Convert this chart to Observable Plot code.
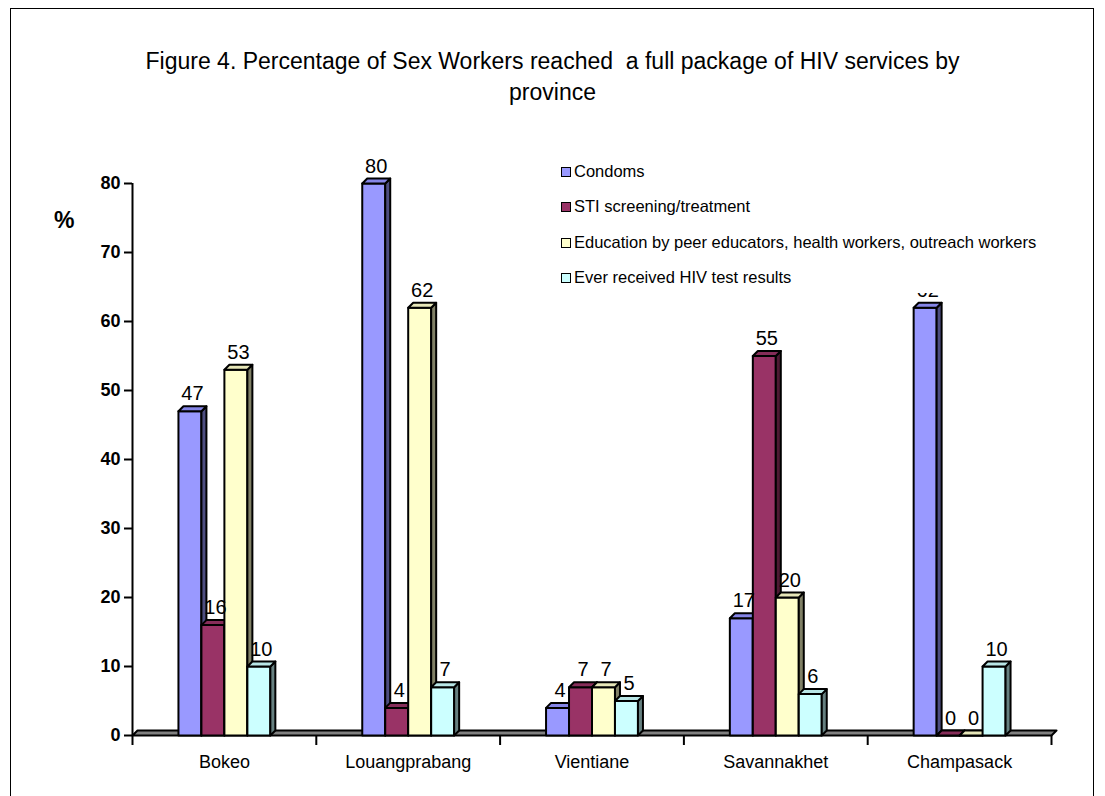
<!DOCTYPE html>
<html>
<head>
<meta charset="utf-8">
<script src="https://cdn.jsdelivr.net/npm/d3@7"></script>
<script src="https://cdn.jsdelivr.net/npm/@observablehq/plot@0.6"></script>
<style>
  html, body { margin: 0; padding: 0; background: #fff; width: 1105px; height: 796px; overflow: hidden; }
  body { position: relative; font-family: Arial, "Liberation Sans", sans-serif; color: #000; }
  #frame { position: absolute; left: 10px; top: 8px; width: 1084px; height: 820px; border: 1.5px solid #000; box-sizing: border-box; }
  #chart { position: absolute; left: 0; top: 0; }
  #title { position: absolute; left: 0; width: 1105px; top: 46px; text-align: center; font-size: 23px; line-height: 31px; }
  #pct { position: absolute; left: 54px; top: 207px; font-size: 23px; font-weight: bold; }
  #legend { position: absolute; left: 553px; top: 156px; width: 495px; height: 137px; background: #fff; }
  .item { position: absolute; left: 8px; height: 18px; font-size: 16.5px; line-height: 18px; white-space: nowrap; }
  .sw { display: inline-block; width: 8px; height: 8px; border: 1.5px solid #000; margin-right: 3px; vertical-align: 0px; }
</style>
</head>
<body>
<div id="chart"></div>
<div id="frame"></div>
<div id="title">Figure 4. Percentage of Sex Workers reached&nbsp; a full package of HIV services by<br>province</div>
<div id="pct">%</div>
<div id="legend"></div>
<script>
const provinces = ["Bokeo", "Louangprabang", "Vientiane", "Savannakhet", "Champasack"];
const seriesNames = [
  "Condoms",
  "STI screening/treatment",
  "Education by peer educators, health workers, outreach workers",
  "Ever received HIV test results"
];
const condoms   = [47, 80, 4, 17, 62];
const sti       = [16, 4, 7, 55, 0];
const education = [53, 62, 7, 20, 0];
const hivTest   = [10, 7, 5, 6, 10];
const yTicks = [0, 10, 20, 30, 40, 50, 60, 70, 80];

const frontColors = ["#9999FF", "#993366", "#FFFFCC", "#CCFFFF"];
const sideColors  = ["#4D4D80", "#4D1A33", "#808066", "#668080"];
const topColors   = ["#8585E6", "#862D59", "#E6E6B8", "#B8E6E6"];

const seriesValues = [condoms, sti, education, hivTest];

// geometry in scale units
const W = 1105, H = 796;
const mL = 132, mR = 54, mT = 183, mB = 61;
const pxPerX = (W - mL - mR) / provinces.length;   // px per category
const pxPerY = (H - mT - mB) / 80;                  // px per %
const depthX = 5 / pxPerX, depthY = 5 / pxPerY;
const groupWidth = 0.5, barW = groupWidth / seriesNames.length;

const rows = [];
provinces.forEach((p, i) => {
  seriesValues.forEach((vals, j) => {
    const x1 = i - groupWidth / 2 + j * barW;
    rows.push({province: p, series: seriesNames[j], j, i, value: vals[i], x1, x2: x1 + barW});
  });
});

// polygons (front, side, top) in drawing order
const polys = [];
let pid = 0;
function poly(pts, fill) {
  const id = pid++;
  pts.concat([pts[0]]).forEach(([x, y]) => polys.push({id, x, y, fill}));
}
// floor
poly([[-0.5, 0], [provinces.length - 0.5, 0], [provinces.length - 0.5 + depthX, depthY], [-0.5 + depthX, depthY]], "#808080");
rows.forEach(r => {
  const v = r.value;
  poly([[r.x1, 0], [r.x2, 0], [r.x2, v], [r.x1, v]], frontColors[r.j]);
  poly([[r.x2, 0], [r.x2 + depthX, depthY], [r.x2 + depthX, v + depthY], [r.x2, v]], sideColors[r.j]);
  poly([[r.x1, v], [r.x2, v], [r.x2 + depthX, v + depthY], [r.x1 + depthX, v + depthY]], topColors[r.j]);
});

const boundaries = provinces.map((d, i) => i - 0.5).concat([provinces.length - 0.5]);

const chart = Plot.plot({
  width: W, height: H,
  marginLeft: mL, marginRight: mR, marginTop: mT, marginBottom: mB,
  style: {fontFamily: 'Arial, "Liberation Sans", sans-serif', fontSize: "18px", color: "#000", background: "transparent", overflow: "visible"},
  x: {domain: [-0.5, provinces.length - 0.5], axis: null},
  y: {domain: [0, 80], axis: null},
  color: {type: "identity"},
  marks: [
    // y axis line and ticks
    Plot.ruleX([-0.5], {y1: 0, y2: 80, stroke: "#000", strokeWidth: 2}),
    Plot.ruleY(yTicks, {x1: -0.5 - 8 / pxPerX, x2: -0.5, stroke: "#000", strokeWidth: 2}),
    Plot.text(yTicks, {x: -0.5, y: d => d, text: d => String(d), dx: -12, textAnchor: "end", fontWeight: "bold", fontSize: 18}),
    // category boundary ticks below floor
    Plot.ruleX(boundaries, {y1: 0, y2: -10 / pxPerY, stroke: "#000", strokeWidth: 2}),
    // bars
    Plot.line(polys, {x: "x", y: "y", z: "id", fill: "fill", stroke: "#000", strokeWidth: 2, strokeLinejoin: "round", curve: "linear"}),
    // value labels
    Plot.text(rows, {x: r => (r.x1 + r.x2) / 2 + depthX / 2, y: r => r.value + depthY, text: r => String(r.value), dy: -6, lineAnchor: "bottom", fontSize: 20}),
    // category labels
    Plot.text(provinces, {x: (d, i) => i, y: 0, text: d => d, dy: 27, fontSize: 18})
  ]
});
document.getElementById("chart").appendChild(chart);

// legend
const legend = document.getElementById("legend");
seriesNames.forEach((s, j) => {
  const div = document.createElement("div");
  div.className = "item";
  div.style.top = (6 + j * 35.3) + "px";
  div.innerHTML = `<span class="sw" style="background:${frontColors[j]}"></span>${s}`;
  legend.appendChild(div);
});
</script>
</body>
</html>
